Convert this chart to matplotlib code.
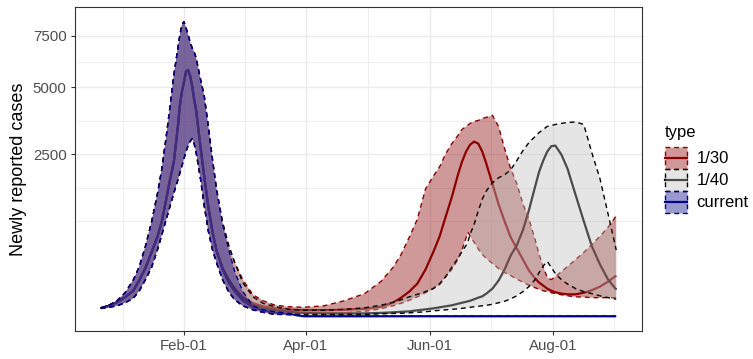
import numpy as np
import matplotlib
matplotlib.use("Agg")
import matplotlib.pyplot as plt
import matplotlib.dates as mdates
from matplotlib.patches import Rectangle
from matplotlib.lines import Line2D
from matplotlib.legend_handler import HandlerBase
from matplotlib.colors import to_rgba

plt.rcParams['font.family'] = ['Liberation Sans', 'DejaVu Sans']

# days after 2019-12-22
start = np.datetime64('2019-12-22')
day = [0, 4, 8, 12, 16, 19, 22, 25, 28, 30, 32, 34, 36, 38, 39, 40, 41, 42, 43, 44,
       45, 46, 47, 49, 51, 53, 55, 57, 60, 63, 66, 70, 75, 80, 86, 93,
       100, 110, 120, 130, 138,
       144, 148, 152, 156, 160, 164, 167, 170, 173, 176, 178, 180, 181, 182, 184, 186, 188, 190, 193,
       196, 199, 202, 205, 208, 211, 214, 216, 218, 220, 222, 224, 227, 230, 234, 238, 242, 246, 250, 254]

# current
cur_hi = [6, 11.5, 23, 53, 125, 236, 467, 845, 1450, 2047, 2947, 4125, 5550, 6875, 7565, 8113, 8280, 7946, 7565, 7190,
          6875, 6670, 6366, 5420, 4620, 3436, 2369, 1551, 813, 427, 191, 58, 10.5, 4, 1.9, 0.8,
          0, 0, 0, 0, 0,
          0, 0, 0, 0, 0, 0, 0, 0, 0, 0, 0, 0, 0, 0, 0, 0, 0, 0, 0,
          0, 0, 0, 0, 0, 0, 0, 0, 0, 0, 0, 0, 0, 0, 0, 0, 0, 0, 0, 0]
cur_mid = [6.3, 10.5, 18.7, 35, 62, 125, 222, 389, 611, 845, 1245, 1750, 2278, 3440, 4250, 4820, 5240, 5715, 5790, 5520,
           5080, 4495, 4046, 2810, 1857, 1145, 691, 414, 208, 108, 58, 23, 7.7, 3.4, 1.5, 0.56,
           0, 0, 0, 0, 0,
           0, 0, 0, 0, 0, 0, 0, 0, 0, 0, 0, 0, 0, 0, 0, 0, 0, 0, 0,
           0, 0, 0, 0, 0, 0, 0, 0, 0, 0, 0, 0, 0, 0, 0, 0, 0, 0, 0, 0]
cur_lo = [6, 7.7, 10.5, 17.4, 31, 62, 128, 227, 427, 626, 864, 1138, 1450, 1775, 1964, 2163, 2369, 2588, 2780, 2911,
          3014, 2845, 2554, 1857, 1162, 691, 427, 276, 128, 58, 26, 10.5, 4, 1.5, 0.35, 0.2,
          0, 0, 0, 0, 0,
          0, 0, 0, 0, 0, 0, 0, 0, 0, 0, 0, 0, 0, 0, 0, 0, 0, 0, 0,
          0, 0, 0, 0, 0, 0, 0, 0, 0, 0, 0, 0, 0, 0, 0, 0, 0, 0, 0, 0]

# 1/30
r30_hi = [6, 11.5, 23, 53, 125, 236, 467, 845, 1450, 2047, 2947, 4125, 5550, 6875, 7565, 8113, 8280, 7946, 7565, 7190,
          6875, 6670, 6366, 5420, 4620, 3436, 2369, 1551, 845, 480, 276, 128, 44, 23, 11.5, 8.6,
          7.7, 10.5, 23, 49, 115,
          227, 365, 595, 900, 1547, 1883, 2134, 2524, 2845, 3117, 3330, 3440, 3495, 3550, 3624, 3660, 3735, 3775, 3855,
          3440, 2685, 2076, 1680, 1211, 900, 565, 365, 236, 143, 128, 150, 191, 236, 308, 389, 494, 611, 757, 963]
r30_mid = [6.3, 10.5, 18.7, 35, 62, 125, 222, 389, 611, 845, 1245, 1750, 2278, 3440, 4250, 4820, 5240, 5715, 5790, 5520,
           5080, 4495, 4046, 2810, 1857, 1145, 691, 414, 222, 128, 73, 35, 16, 9.5, 6, 4,
           3.4, 3.4, 4, 5.3, 8.6,
           17.4, 33, 58, 102, 208, 402, 611, 953, 1358, 1911, 2278, 2588, 2700, 2810, 2911, 2845, 2588, 2221, 1673,
           1200, 860, 595, 440, 308, 200, 137, 108, 90, 73, 62, 55, 49, 46, 46, 53, 65, 84, 115, 158]
r30_lo = [6, 7.7, 10.5, 17.4, 31, 62, 128, 227, 427, 626, 864, 1138, 1450, 1775, 1964, 2163, 2369, 2588, 2780, 2911,
          3014, 2845, 2554, 1857, 1162, 691, 427, 276, 128, 58, 26, 10.5, 4, 1.5, 0.35, 0.56,
          0.8, 0.8, 1.1, 2.3, 5.3,
          10.5, 16, 24.5, 36, 53, 73, 96, 150, 209, 308, 421, 585, 669, 615, 522, 433, 365, 319, 266,
          218, 182, 158, 132, 111, 92, 78, 70, 62, 58, 53, 49, 44, 40, 36, 35, 33, 33, 33, 33]

# 1/40
r40_hi = [6, 11.5, 23, 53, 125, 236, 467, 845, 1450, 2047, 2947, 4125, 5550, 6875, 7565, 8113, 8280, 7946, 7565, 7190,
          6875, 6670, 6366, 5420, 4620, 3436, 2369, 1551, 845, 480, 276, 108, 36, 16, 8.6, 4.6,
          3.4, 3.4, 4.6, 6.8, 11.5,
          18.7, 26, 36, 46, 58, 75, 102, 150, 230, 320, 400, 480, 540, 640, 809, 1056, 1311, 1499, 1698,
          1830, 1911, 2048, 2311, 2618, 2880, 3082, 3222, 3330, 3440, 3475, 3511, 3550, 3585, 3603, 3511, 2550, 1805, 995, 419]
r40_mid = [6.3, 10.5, 18.7, 35, 62, 125, 222, 389, 611, 845, 1245, 1750, 2278, 3440, 4250, 4820, 5240, 5715, 5790, 5520,
           5080, 4495, 4046, 2810, 1857, 1145, 691, 414, 222, 128, 73, 29, 12.6, 6, 3.4, 1.9,
           1.1, 0.8, 0.8, 0.8, 1.1,
           1.5, 1.9, 2.3, 3.4, 4.6, 6, 7.7, 9.5, 11.5, 15, 17.4, 20, 21.5, 23, 27.7, 33, 38, 49, 73,
           121, 209, 353, 480, 707, 1076, 1599, 1992, 2309, 2588, 2762, 2780, 2492, 2078, 1403, 864, 467, 256, 128, 68]
r40_lo = [6, 7.7, 10.5, 17.4, 31, 62, 128, 227, 427, 626, 864, 1138, 1450, 1775, 1964, 2163, 2369, 2588, 2780, 2911,
          3014, 2845, 2554, 1857, 1162, 691, 427, 276, 128, 58, 26, 10.5, 4, 1.5, 0.35, 0.35,
          0.35, 0.35, 0.35, 0.35, 0.56,
          0.8, 0.8, 1.1, 1.5, 1.9, 2.8, 3.4, 4, 4.6, 5.3, 6, 6.8, 6.8, 7.7, 8.6, 9.5, 10.5, 11.5, 13.7,
          17.4, 21.5, 29, 40, 58, 84, 128, 183, 240, 287, 227, 174, 128, 99, 73, 58, 49, 40, 33, 28]

types = ['1/30', '1/40', 'current']
line_cols = ['#8B0000', 'black', '#00008B']
fill_cols = ['#8B0000', '#BEBEBE', '#00008B']
x_breaks = ['2020-02-01', '2020-04-01', '2020-06-01', '2020-08-01']
y_breaks = [2500, 5000, 7500]

dates = start + np.array(day).astype('timedelta64[D]')
series = [(r30_lo, r30_mid, r30_hi), (r40_lo, r40_mid, r40_hi), (cur_lo, cur_mid, cur_hi)]
dash = (0, (3.5, 2.8))


def fwd(v):
    return np.sign(v) * np.sqrt(np.abs(v))


def inv(v):
    return np.sign(v) * np.asarray(v) ** 2


def minor_between(b, lo, hi):
    # ggplot-style minor breaks: midpoints, extended one step outside
    b = list(b)
    bd = b[1] - b[0]
    ext = [b[0] - bd] + b + [b[-1] + bd]
    out = []
    for a, c in zip(ext[:-1], ext[1:]):
        out += [a, (a + c) / 2]
    out.append(ext[-1])
    return [m for m in out if lo <= m <= hi and not np.any(np.isclose(m, b))]


class RibbonKey(HandlerBase):
    # ggplot-like key: line under a translucent box with dashed outline
    def create_artists(self, legend, orig_handle, xdescent, ydescent, width, height, fontsize, trans):
        lc, fc = orig_handle
        y0, h = -ydescent, height
        line = Line2D([-xdescent, width - xdescent], [y0 + h / 2] * 2, color=lc, lw=1.6, transform=trans)
        box = Rectangle((-xdescent, y0), width, h, facecolor=to_rgba(fc, 0.4), edgecolor=lc,
                        lw=1.0, linestyle=dash, transform=trans)
        return [line, box]


fig = plt.figure(figsize=(7.53, 3.59), dpi=100)
ax = fig.add_axes([75 / 753, 1 - 331 / 359, 567 / 753, 324 / 359])
ax.set_yscale('function', functions=(fwd, inv))

# lines under the ribbons
for (lo, mid, hi), lc in zip(series, line_cols):
    ax.plot(dates, mid, color=lc, lw=1.6, zorder=2, solid_capstyle='butt')

z = 3
for (lo, mid, hi), lc, fc in zip(series, line_cols, fill_cols):
    ax.fill_between(dates, lo, hi, facecolor=to_rgba(fc, 0.4), edgecolor='none', zorder=z)
    ax.plot(dates, hi, color=lc, lw=1.0, linestyle=dash, zorder=z + 0.05)
    ax.plot(dates, lo, color=lc, lw=1.0, linestyle=dash, zorder=z + 0.05)
    z += 0.1

# limits with 5% expansion (y in sqrt space)
x0 = mdates.date2num(dates[0])
x1 = mdates.date2num(dates[-1])
pad = 0.05 * (x1 - x0)
xlim = (x0 - pad, x1 + pad)
ymax = np.sqrt(max(max(s) for grp in series for s in grp))
tlim = (-0.05 * ymax, 1.05 * ymax)

xmaj = mdates.date2num(np.array(x_breaks, dtype='datetime64[D]'))
ax.set_xticks(xmaj)
ax.set_xticks(minor_between(xmaj, *xlim), minor=True)
ax.xaxis.set_major_formatter(mdates.DateFormatter('%b-%d'))
ax.set_yticks(y_breaks)
ax.set_yticklabels([str(v) for v in y_breaks])
ax.set_yticks(inv(np.array(minor_between(np.sqrt(y_breaks), *tlim))), minor=True)
ax.set_xlim(*xlim)
ax.set_ylim(inv(tlim[0]), inv(tlim[1]))

ax.set_axisbelow(True)
ax.grid(True, which='major', color='#EBEBEB', lw=1.0)
ax.grid(True, which='minor', color='#EBEBEB', lw=0.6)
ax.tick_params(which='major', length=3, width=0.8, color='#333333', labelcolor='#4D4D4D',
               labelsize=10.8, pad=3)
ax.tick_params(which='minor', length=0)
for sp in ax.spines.values():
    sp.set_color('#333333')
    sp.set_linewidth(0.8)

ax.set_ylabel('Newly reported cases', fontsize=13, color='black', labelpad=4)

keys = list(zip(line_cols, fill_cols))
leg = ax.legend(keys, types, handler_map={tuple: RibbonKey()},
                title='type', loc='center left', bbox_to_anchor=(1.04, 0.5), frameon=False,
                fontsize=12, title_fontsize=12, handlelength=1.32, handleheight=1.654,
                labelspacing=0.0, handletextpad=0.6, borderpad=0, borderaxespad=0, alignment='left')
leg._legend_box.sep = 5  # gap between title and keys

fig.savefig('out.png', dpi=100)
